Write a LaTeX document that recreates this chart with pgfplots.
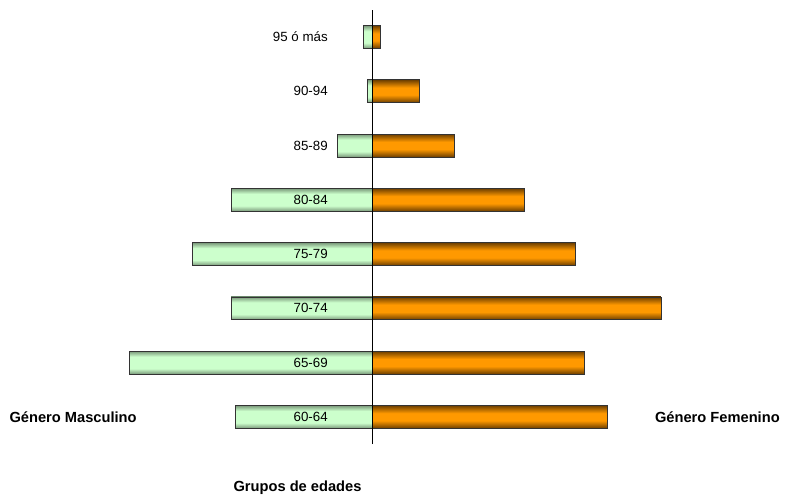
\documentclass[border=0pt]{standalone}
\usepackage{fontspec}
\setmainfont{Liberation Sans}
\usepackage{pgfplots}
\pgfplotsset{compat=1.18}

\definecolor{orangemid}{HTML}{FF9900}
\definecolor{orangeedge}{HTML}{6E3F00}
\definecolor{greenmid}{HTML}{CCFFCC}
\definecolor{greenedge}{HTML}{7A997A}

% bars: darker bands at the top and bottom edges, flat in the middle
\pgfdeclareverticalshading{orangebar}{100bp}{%
  color(0bp)=(orangeedge); color(25bp)=(orangeedge);
  color(42bp)=(orangemid); color(58bp)=(orangemid);
  color(75bp)=(orangeedge); color(100bp)=(orangeedge)}
\pgfdeclareverticalshading{greenbar}{100bp}{%
  color(0bp)=(greenedge); color(25bp)=(greenedge);
  color(37bp)=(greenmid); color(63bp)=(greenmid);
  color(75bp)=(greenedge); color(100bp)=(greenedge)}

\pgfplotsset{
  masc/.style={draw=black!80, line width=0.6pt, shading=greenbar},
  fem/.style={draw=black!80, line width=0.6pt, shading=orangebar},
}

\begin{document}
\begin{tikzpicture}
\begin{axis}[
  scale only axis,
  width=591pt, height=372pt,
  xmin=-372, xmax=416,
  ymin=-1.455, ymax=7.681,
  axis line style={draw=none},
  major tick length=0pt,
  xtick=\empty,
  ytick={0,...,7},
  yticklabels={60-64,65-69,70-74,75-79,80-84,85-89,90-94,95 ó más},
  yticklabel style={anchor=east, inner sep=0pt, xshift=246pt, font=\fontsize{10}{12}\selectfont},
  axis on top,
  clip=false,
  xbar, bar shift=0pt, bar width=0.42,
]
% Género Masculino (left), one bar per age group so each bar gets its own shading
\addplot[masc] coordinates {(-137,0)};
\addplot[masc] coordinates {(-243,1)};
\addplot[masc] coordinates {(-141,2)};
\addplot[masc] coordinates {(-180,3)};
\addplot[masc] coordinates {(-141,4)};
\addplot[masc] coordinates {(-35,5)};
\addplot[masc] coordinates {(-5,6)};
\addplot[masc] coordinates {(-9,7)};
% Género Femenino (right)
\addplot[fem] coordinates {(235,0)};
\addplot[fem] coordinates {(212,1)};
\addplot[fem] coordinates {(289,2)};
\addplot[fem] coordinates {(203,3)};
\addplot[fem] coordinates {(152,4)};
\addplot[fem] coordinates {(82,5)};
\addplot[fem] coordinates {(47,6)};
\addplot[fem] coordinates {(8,7)};
% centre line
\draw[black, line width=0.6pt] (axis cs:0,-0.5) -- (axis cs:0,7.5);
\node[font=\bfseries\fontsize{11}{13}\selectfont] at (axis cs:-299,0) {Género Masculino};
\node[font=\bfseries\fontsize{11}{13}\selectfont] at (axis cs:345.5,0) {Género Femenino};
\node[font=\bfseries\fontsize{11}{13}\selectfont] at (axis cs:-74.5,-1.31) {Grupos de edades};
\end{axis}
\end{tikzpicture}
\end{document}
